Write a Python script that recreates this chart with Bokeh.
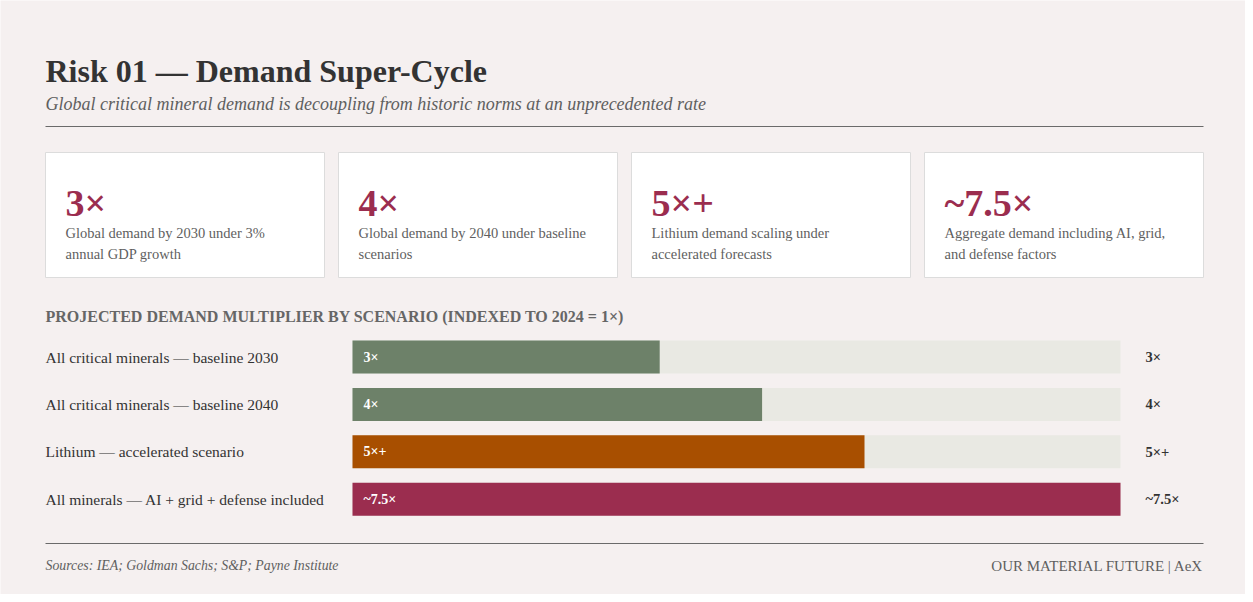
from bokeh.plotting import figure
from bokeh.models import Range1d, ColumnDataSource
from bokeh.core.properties import value
from bokeh.embed import file_html
from bokeh.resources import INLINE

# ---------------- data ----------------
title = "Risk 01 \u2014 Demand Super-Cycle"
subtitle = "Global critical mineral demand is decoupling from historic norms at an unprecedented rate"

card_values = ["3\u00d7", "4\u00d7", "5\u00d7+", "~7.5\u00d7"]
card_line1 = ["Global demand by 2030 under 3%",
              "Global demand by 2040 under baseline",
              "Lithium demand scaling under",
              "Aggregate demand including AI, grid,"]
card_line2 = ["annual GDP growth",
              "scenarios",
              "accelerated forecasts",
              "and defense factors"]

section_title = "PROJECTED DEMAND MULTIPLIER BY SCENARIO (INDEXED TO 2024 = 1\u00d7)"
scenarios = ["All critical minerals \u2014 baseline 2030",
             "All critical minerals \u2014 baseline 2040",
             "Lithium \u2014 accelerated scenario",
             "All minerals \u2014 AI + grid + defense included"]
multipliers = [3.0, 4.0, 5.0, 7.5]
multiplier_labels = ["3\u00d7", "4\u00d7", "5\u00d7+", "~7.5\u00d7"]
bar_colors = ["#6d8169", "#6d8169", "#a84f00", "#9b2d4f"]
scale_max = 7.5

sources = "Sources: IEA; Goldman Sachs; S&P; Payne Institute"
brand = "OUR MATERIAL FUTURE | AeX"

# ---------------- layout ----------------
W, H = 1245, 594
FONT = value("Liberation Serif")
BG = "#f5f0f0"
INK = "#333333"
GREY = "#5f5f5f"
ACCENT = "#9b2d4f"

LEFT, RIGHT = 45, 1203
BAR_X0, BAR_X1 = 352, 1120

p = figure(width=W, height=H, output_backend="svg", toolbar_location=None,
           x_range=Range1d(0, W), y_range=Range1d(H, 0),
           min_border=0, outline_line_color=None,
           background_fill_color=BG, border_fill_color=BG)
p.axis.visible = False
p.grid.visible = False

# value range mapped so that 0 -> BAR_X0 and scale_max -> BAR_X1
span = scale_max * W / (BAR_X1 - BAR_X0)
v_start = -BAR_X0 / (BAR_X1 - BAR_X0) * scale_max
p.extra_x_ranges = {"val": Range1d(v_start, v_start + span)}

# header
p.text(x=[LEFT], y=[70], text=[title], text_font=FONT, text_font_size="32px",
       text_font_style="bold", text_color=INK, text_baseline="alphabetic")
p.text(x=[LEFT], y=[103], text=[subtitle], text_font=FONT, text_font_size="18px",
       text_font_style="italic", text_color=GREY, text_baseline="alphabetic")
p.segment(x0=[LEFT], x1=[RIGHT], y0=[126], y1=[126], line_color="#6a6a6a", line_width=1)

# cards
n = len(card_values)
card_w, card_gap = 279, 14
lefts = [LEFT + i * (card_w + card_gap) for i in range(n)]
p.quad(left=lefts, right=[l + card_w for l in lefts], top=[152] * n, bottom=[277] * n,
       fill_color="white", line_color="#dcdcdc", line_width=1)
tx = [l + 20 for l in lefts]
p.text(x=tx, y=[202] * n, text=card_values, text_font=FONT, text_font_size="38px",
       text_font_style="bold", text_color=ACCENT, text_baseline="alphabetic")
p.text(x=tx, y=[232] * n, text=card_line1, text_font=FONT, text_font_size="14.5px",
       text_color=GREY, text_baseline="alphabetic")
p.text(x=tx, y=[253] * n, text=card_line2, text_font=FONT, text_font_size="14.5px",
       text_color=GREY, text_baseline="alphabetic")

# section title
p.text(x=[LEFT], y=[316], text=[section_title], text_font=FONT, text_font_size="16px",
       text_font_style="bold", text_color="#666666", text_baseline="middle")

# bars
row0, step, bar_h = 356.5, 47.4, 33
ys = [row0 + i * step for i in range(len(scenarios))]
src = ColumnDataSource(dict(y=ys, v=multipliers, lab=multiplier_labels,
                            name=scenarios, color=bar_colors,
                            zero=[0] * len(ys), top=[scale_max] * len(ys)))
p.hbar(y="y", left="zero", right="top", height=bar_h, source=src,
       x_range_name="val", fill_color="#e9e9e3", line_color=None)
p.hbar(y="y", left="zero", right="v", height=bar_h, source=src,
       x_range_name="val", fill_color="color", line_color=None)
p.text(x="zero", y="y", text="lab", source=src, x_range_name="val", x_offset=11,
       text_font=FONT, text_font_size="14px", text_font_style="bold",
       text_color="white", text_baseline="middle")
p.text(x="top", y="y", text="lab", source=src, x_range_name="val", x_offset=25,
       text_font=FONT, text_font_size="14.5px", text_font_style="bold",
       text_color=INK, text_baseline="middle")
p.text(x=[LEFT] * len(ys), y=ys, text=scenarios, text_font=FONT, text_font_size="15.5px",
       text_color=INK, text_baseline="middle")

# footer
p.segment(x0=[LEFT], x1=[RIGHT], y0=[543], y1=[543], line_color="#6a6a6a", line_width=1)
p.text(x=[LEFT], y=[565], text=[sources], text_font=FONT, text_font_size="13.8px",
       text_font_style="italic", text_color=GREY, text_baseline="middle")
p.text(x=[RIGHT], y=[565], text=[brand], text_font=FONT, text_font_size="15px",
       text_color=GREY, text_baseline="middle", text_align="right")

open("out.html", "w").write(file_html(p, INLINE))
